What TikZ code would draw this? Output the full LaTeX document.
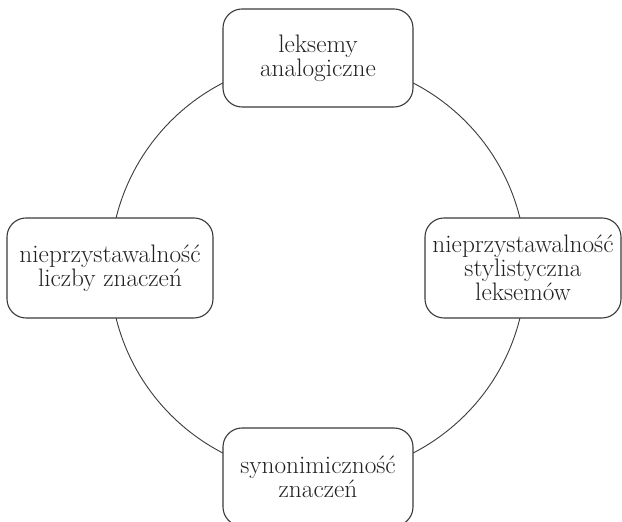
\documentclass[tikz,border=0pt]{standalone}
\usepackage{fontspec}
\definecolor{linec}{HTML}{3A3A3A}
\definecolor{textc}{HTML}{222222}
\begin{document}
\begin{tikzpicture}[x=1pt,y=1pt,
  box/.style={draw=linec, line width=1.1pt, fill=white, rounded corners=19pt,
    align=center, text=textc, font=\fontsize{25.3}{22}\selectfont, inner sep=0pt},
  ring/.style={draw=linec, line width=0.9pt}]
\useasboundingbox (0,0) rectangle (622,522);
\coordinate (c) at (318,254);
\draw[ring] (c) circle[radius=208];
\node[box, minimum width=190pt, minimum height=98pt] (top) at (318,464) {leksemy\\analogiczne};
\node[box, minimum width=206pt, minimum height=100pt] (left) at (110,254) {nieprzystawalność\\liczby znaczeń};
\node[box, minimum width=196pt, minimum height=100pt] (right) at (523,254) {nieprzystawalność\\stylistyczna\\leksemów};
\node[box, minimum width=190pt, minimum height=98pt] (bottom) at (318,45) {synonimiczność\\znaczeń};
\end{tikzpicture}
\end{document}
